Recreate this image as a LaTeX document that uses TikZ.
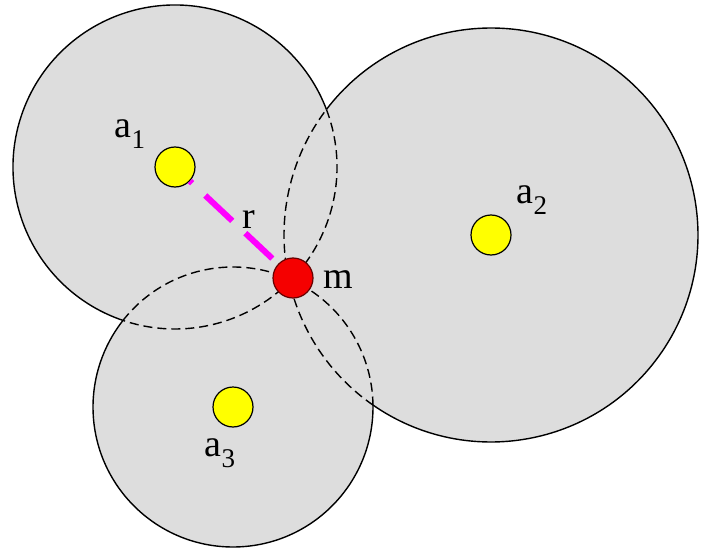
\documentclass[tikz,border=0pt]{standalone}
\usepackage{fontspec}
\setmainfont{Liberation Serif}
\definecolor{circfill}{RGB}{221,221,221}
\definecolor{dotyellow}{RGB}{255,255,0}
\definecolor{dotred}{RGB}{245,0,0}
\definecolor{rmag}{RGB}{255,0,255}
\newcommand\subtxt[1]{\raisebox{-11pt}{\fontsize{27}{27}\selectfont #1}}
\begin{document}
\begin{tikzpicture}[x=1pt,y=1pt,
  disc/.style={fill=circfill, draw=none},
  rim/.style={draw=black, line width=1.4pt},
  rimdash/.style={draw=black, line width=1.4pt, dash pattern=on 9pt off 5pt},
  ydot/.style={circle, fill=dotyellow, draw=black, line width=1.2pt, minimum size=40pt, inner sep=0pt},
  rdot/.style={circle, fill=dotred, draw=black!60!red, line width=1.2pt, minimum size=40pt, inner sep=0pt},
  rline/.style={draw=rmag, line width=6pt, dash pattern=on 37pt off 18pt, dash phase=34pt},
  lbl/.style={inner sep=0pt, font=\fontsize{38}{40}\selectfont}]
\fill[white] (0,0) rectangle (701,550);
\useasboundingbox (0,0) rectangle (701,550);
\coordinate (c1) at (175,383);
\coordinate (c2) at (491,315);
\coordinate (c3) at (233,143);
% grey discs
\fill[disc] (c1) circle[radius=162];
\fill[disc] (c2) circle[radius=207];
\fill[disc] (c3) circle[radius=140];
% circle 1
\draw[rim] ([shift={(-108.7:162)}]c1) arc[start angle=-108.7, end angle=-339.2, radius=162];
\draw[rimdash] ([shift={(20.8:162)}]c1) arc[start angle=20.8, end angle=-108.7, radius=162];
% circle 2
\draw[rim] ([shift={(-217.4:207)}]c2) arc[start angle=-217.4, end angle=-484.7, radius=207];
\draw[rimdash] ([shift={(-124.7:207)}]c2) arc[start angle=-124.7, end angle=-217.4, radius=207];
% circle 3
\draw[rim] ([shift={(0.8:140)}]c3) arc[start angle=0.8, end angle=-218.2, radius=140];
\draw[rimdash] ([shift={(-218.2:140)}]c3) arc[start angle=-218.2, end angle=-359.2, radius=140];
% dots
\node[ydot] (a1) at (c1) {};
\node[ydot] (a2) at (c2) {};
\node[ydot] (a3) at (c3) {};
\node[rdot] (m) at (293,272) {};
\draw[rline] (a1) -- (m);
% labels
\node[lbl] (la1) at (130,416) {a\subtxt{1}};
\node[lbl] (la2) at (532,350) {a\subtxt{2}};
\node[lbl] (la3) at (220,97) {a\subtxt{3}};
\node[lbl] (lm) at (338,270) {m};
\node[lbl] (lr) at (249,330) {r};
\end{tikzpicture}
\end{document}
